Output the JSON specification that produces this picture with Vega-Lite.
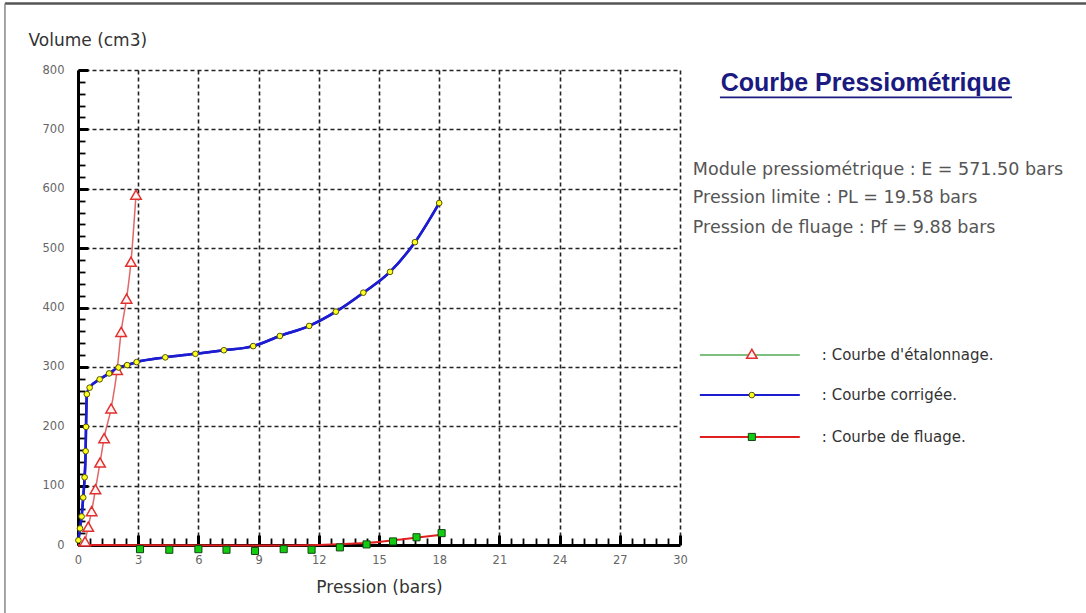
{
  "$schema": "https://vega.github.io/schema/vega-lite/v6.json",
  "width": 602,
  "height": 475,
  "autosize": {"type": "none"},
  "padding": {"left": 78, "top": 70, "right": 406, "bottom": 68},
  "background": "white",
  "config": {"font": "DejaVu Sans", "view": {"stroke": null}},
  "datasets": {
    "etal": [
      {"p": 0.35, "v": 6}, {"p": 0.51, "v": 31}, {"p": 0.68, "v": 57}, {"p": 0.87, "v": 94},
      {"p": 1.10, "v": 139}, {"p": 1.30, "v": 180}, {"p": 1.65, "v": 230}, {"p": 1.95, "v": 295},
      {"p": 2.15, "v": 359}, {"p": 2.42, "v": 415}, {"p": 2.64, "v": 477}, {"p": 2.89, "v": 590}
    ],
    "corr": [
      {"p": 0.02, "v": 8}, {"p": 0.10, "v": 28}, {"p": 0.18, "v": 48}, {"p": 0.26, "v": 80},
      {"p": 0.33, "v": 114}, {"p": 0.38, "v": 158}, {"p": 0.40, "v": 199}, {"p": 0.44, "v": 254},
      {"p": 0.58, "v": 265}, {"p": 1.08, "v": 279}, {"p": 1.55, "v": 289}, {"p": 2.02, "v": 299},
      {"p": 2.45, "v": 303}, {"p": 2.92, "v": 308}, {"p": 4.35, "v": 316}, {"p": 5.85, "v": 322},
      {"p": 7.27, "v": 328}, {"p": 8.73, "v": 335}, {"p": 10.06, "v": 352}, {"p": 11.52, "v": 369},
      {"p": 12.85, "v": 393}, {"p": 14.22, "v": 425}, {"p": 15.55, "v": 460}, {"p": 16.79, "v": 510},
      {"p": 18.0, "v": 576}
    ],
    "fluage": [
      {"p": 3.09, "v": -7}, {"p": 4.55, "v": -8}, {"p": 6.0, "v": -7},
      {"p": 7.4, "v": -8}, {"p": 8.82, "v": -10}, {"p": 10.25, "v": -7}, {"p": 11.64, "v": -8},
      {"p": 13.05, "v": -4}, {"p": 14.38, "v": 1}, {"p": 15.7, "v": 6}, {"p": 16.87, "v": 13},
      {"p": 18.12, "v": 20}
    ],
    "fluage_courbe": [
      {"p": 0, "v": 0}, {"p": 9, "v": -1}, {"p": 12, "v": 0}, {"p": 13.5, "v": 2},
      {"p": 15, "v": 5}, {"p": 16.5, "v": 11}, {"p": 18.1, "v": 17}
    ]
  },
  "layer": [
    {
      "data": {"name": "corr"},
      "mark": {"type": "line", "color": "#1c1cd0", "strokeWidth": 2.5, "interpolate": "monotone"},
      "encoding": {
        "x": {"field": "p", "type": "quantitative",
          "scale": {"domain": [0, 30], "nice": false, "zero": false},
          "axis": {"orient": "bottom", "tickCount": 500,
            "values": [0,0.6,1.2,1.8,2.4,3,3.6,4.2,4.8,5.4,6,6.6,7.2,7.8,8.4,9,9.6,10.2,10.8,11.4,12,12.6,13.2,13.8,14.4,15,15.6,16.2,16.8,17.4,18,18.6,19.2,19.8,20.4,21,21.6,22.2,22.8,23.4,24,24.6,25.2,25.8,26.4,27,27.6,28.2,28.8,29.4,30],
            "labelExpr": "datum.value % 3 === 0 ? format(datum.value, 'd') : ''",
            "grid": true, "gridColor": "#222", "gridDash": [4, 3], "gridWidth": 1.6,
            "gridOpacity": {"condition": {"test": "datum.value % 3 === 0", "value": 1}, "value": 0},
            "domainColor": "#000", "domainWidth": 3, "tickColor": "#000",
            "tickSize": {"condition": {"test": "datum.value % 3 === 0", "value": -10}, "value": -7},
            "tickWidth": {"condition": {"test": "datum.value % 3 === 0", "value": 3}, "value": 1.8},
            "labelFont": "DejaVu Sans", "labelFontSize": 11.5, "labelColor": "#666", "labelPadding": 19, "labelFlush": false, "labelOverlap": false,
            "title": "Pression (bars)", "titleFont": "DejaVu Sans", "titleFontSize": 17, "titleFontWeight": "normal", "titleColor": "#333",
            "titleBaseline": "middle", "titleY": 42}},
        "y": {"field": "v", "type": "quantitative",
          "scale": {"domain": [0, 800], "nice": false, "zero": false},
          "axis": {"orient": "left", "tickCount": 500,
            "values": [0,20,40,60,80,100,120,140,160,180,200,220,240,260,280,300,320,340,360,380,400,420,440,460,480,500,520,540,560,580,600,620,640,660,680,700,720,740,760,780,800],
            "labelExpr": "datum.value % 100 === 0 ? format(datum.value, 'd') : ''",
            "grid": true, "gridColor": "#222", "gridDash": [4, 3], "gridWidth": 1.6,
            "gridOpacity": {"condition": {"test": "datum.value % 100 === 0", "value": 1}, "value": 0},
            "domainColor": "#000", "domainWidth": 3, "tickColor": "#000",
            "tickSize": {"condition": {"test": "datum.value % 100 === 0", "value": -10}, "value": -7},
            "tickWidth": {"condition": {"test": "datum.value % 100 === 0", "value": 3}, "value": 1.8},
            "labelFont": "DejaVu Sans", "labelFontSize": 11.5, "labelColor": "#666", "labelPadding": 24, "labelFlush": false, "labelOverlap": false,
            "title": "Volume (cm3)", "titleFont": "DejaVu Sans", "titleFontSize": 17, "titleFontWeight": "normal", "titleColor": "#333",
            "titleAngle": 0, "titleAlign": "left", "titleBaseline": "middle", "titleX": -50, "titleY": -30}}
      }
    },
    {
      "data": {"name": "fluage_courbe"},
      "mark": {"type": "line", "color": "#e02020", "strokeWidth": 2, "interpolate": "monotone"},
      "encoding": {
        "x": {"field": "p", "type": "quantitative"},
        "y": {"field": "v", "type": "quantitative"}
      }
    },
    {
      "data": {"name": "etal"},
      "mark": {"type": "line", "color": "#e06868", "strokeWidth": 1.5, "interpolate": "monotone"},
      "encoding": {
        "x": {"field": "p", "type": "quantitative"},
        "y": {"field": "v", "type": "quantitative"}
      }
    },
    {
      "data": {"name": "etal"},
      "mark": {"type": "point", "shape": "triangle-up", "filled": true, "fill": "#fff4f4", "stroke": "#e03030", "strokeWidth": 1.5, "size": 110, "opacity": 1},
      "encoding": {
        "x": {"field": "p", "type": "quantitative"},
        "y": {"field": "v", "type": "quantitative"}
      }
    },
    {
      "data": {"name": "corr"},
      "mark": {"type": "line", "color": "#1c1cd0", "strokeWidth": 2.5, "interpolate": "monotone"},
      "encoding": {
        "x": {"field": "p", "type": "quantitative"},
        "y": {"field": "v", "type": "quantitative"}
      }
    },
    {
      "data": {"name": "corr"},
      "mark": {"type": "point", "shape": "circle", "filled": true, "fill": "#ffff22", "stroke": "#555500", "strokeWidth": 1, "size": 32, "opacity": 1},
      "encoding": {
        "x": {"field": "p", "type": "quantitative"},
        "y": {"field": "v", "type": "quantitative"}
      }
    },
    {
      "data": {"name": "fluage"},
      "mark": {"type": "point", "shape": "square", "filled": true, "fill": "#11cc11", "stroke": "#114411", "strokeWidth": 1, "size": 50, "opacity": 1},
      "encoding": {
        "x": {"field": "p", "type": "quantitative"},
        "y": {"field": "v", "type": "quantitative"}
      }
    },
    {
      "data": {"values": [{}]},
      "mark": {"type": "rule", "color": "#555", "strokeWidth": 2.5},
      "encoding": {
        "x": {"datum": -3.64, "type": "quantitative"},
        "x2": {"datum": 55},
        "y": {"datum": 912, "type": "quantitative"}
      }
    },
    {
      "data": {"values": [{}]},
      "mark": {"type": "rule", "color": "#888", "strokeWidth": 1.5},
      "encoding": {
        "x": {"datum": -3.64, "type": "quantitative"},
        "y": {"datum": 912, "type": "quantitative"},
        "y2": {"datum": -120}
      }
    },
    {
      "data": {"values": [{}]},
      "mark": {"type": "text", "text": "Courbe Pressiométrique", "font": "Liberation Sans", "fontSize": 25, "fontWeight": "bold", "color": "#1a1a80", "align": "center", "baseline": "middle"},
      "encoding": {
        "x": {"datum": 39.26, "type": "quantitative"},
        "y": {"datum": 778, "type": "quantitative"}
      }
    },
    {
      "data": {"values": [{}]},
      "mark": {"type": "rule", "color": "#1a1a80", "strokeWidth": 1.8},
      "encoding": {
        "x": {"datum": 31.99, "type": "quantitative"},
        "x2": {"datum": 46.54},
        "y": {"datum": 754, "type": "quantitative"}
      }
    },
    {
      "data": {"values": [{}]},
      "mark": {"type": "text", "text": "Module pressiométrique :  E = 571.50 bars", "fontSize": 17.5, "color": "#555", "align": "left", "baseline": "middle"},
      "encoding": {
        "x": {"datum": 30.64, "type": "quantitative"},
        "y": {"datum": 631, "type": "quantitative"}
      }
    },
    {
      "data": {"values": [{}]},
      "mark": {"type": "text", "text": "Pression limite :  PL = 19.58 bars", "fontSize": 17.5, "color": "#555", "align": "left", "baseline": "middle"},
      "encoding": {
        "x": {"datum": 30.64, "type": "quantitative"},
        "y": {"datum": 584, "type": "quantitative"}
      }
    },
    {
      "data": {"values": [{}]},
      "mark": {"type": "text", "text": "Pression de fluage :  Pf = 9.88 bars", "fontSize": 17.5, "color": "#555", "align": "left", "baseline": "middle"},
      "encoding": {
        "x": {"datum": 30.64, "type": "quantitative"},
        "y": {"datum": 534, "type": "quantitative"}
      }
    },
    {
      "data": {"values": [{}]},
      "mark": {"type": "rule", "color": "#55aa55", "strokeWidth": 1.5},
      "encoding": {
        "x": {"datum": 30.99, "type": "quantitative"},
        "x2": {"datum": 35.97},
        "y": {"datum": 320, "type": "quantitative"}
      }
    },
    {
      "data": {"values": [{}]},
      "mark": {"type": "point", "shape": "triangle-up", "filled": true, "fill": "#fff4f4", "stroke": "#e03030", "strokeWidth": 1.5, "size": 110, "opacity": 1},
      "encoding": {
        "x": {"datum": 33.58, "type": "quantitative"},
        "y": {"datum": 322, "type": "quantitative"}
      }
    },
    {
      "data": {"values": [{}]},
      "mark": {"type": "text", "text": ": Courbe d'étalonnage.", "fontSize": 15, "color": "#333", "align": "left", "baseline": "middle"},
      "encoding": {
        "x": {"datum": 37.07, "type": "quantitative"},
        "y": {"datum": 320, "type": "quantitative"}
      }
    },
    {
      "data": {"values": [{}]},
      "mark": {"type": "rule", "color": "#1c1cd0", "strokeWidth": 2},
      "encoding": {
        "x": {"datum": 30.99, "type": "quantitative"},
        "x2": {"datum": 35.97},
        "y": {"datum": 252.5, "type": "quantitative"}
      }
    },
    {
      "data": {"values": [{}]},
      "mark": {"type": "point", "shape": "circle", "filled": true, "fill": "#ffff22", "stroke": "#555500", "strokeWidth": 1, "size": 32, "opacity": 1},
      "encoding": {
        "x": {"datum": 33.58, "type": "quantitative"},
        "y": {"datum": 252.5, "type": "quantitative"}
      }
    },
    {
      "data": {"values": [{}]},
      "mark": {"type": "text", "text": ": Courbe corrigée.", "fontSize": 15, "color": "#333", "align": "left", "baseline": "middle"},
      "encoding": {
        "x": {"datum": 37.07, "type": "quantitative"},
        "y": {"datum": 252.5, "type": "quantitative"}
      }
    },
    {
      "data": {"values": [{}]},
      "mark": {"type": "rule", "color": "#e02020", "strokeWidth": 2},
      "encoding": {
        "x": {"datum": 30.99, "type": "quantitative"},
        "x2": {"datum": 35.97},
        "y": {"datum": 182, "type": "quantitative"}
      }
    },
    {
      "data": {"values": [{}]},
      "mark": {"type": "point", "shape": "square", "filled": true, "fill": "#11cc11", "stroke": "#114411", "strokeWidth": 1, "size": 50, "opacity": 1},
      "encoding": {
        "x": {"datum": 33.58, "type": "quantitative"},
        "y": {"datum": 182, "type": "quantitative"}
      }
    },
    {
      "data": {"values": [{}]},
      "mark": {"type": "text", "text": ": Courbe de fluage.", "fontSize": 15, "color": "#333", "align": "left", "baseline": "middle"},
      "encoding": {
        "x": {"datum": 37.07, "type": "quantitative"},
        "y": {"datum": 182, "type": "quantitative"}
      }
    }
  ]
}
